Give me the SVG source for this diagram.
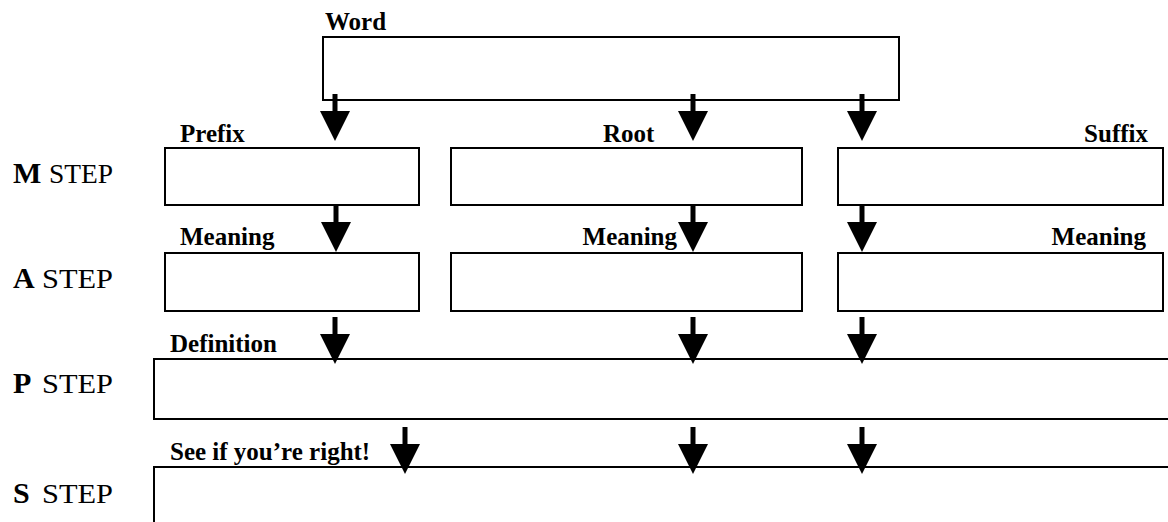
<svg xmlns="http://www.w3.org/2000/svg" width="1168" height="522" viewBox="0 0 1168 522">
  <style>
    .box { fill: none; stroke: #000; stroke-width: 2; }
    .lbl { font-family: "Liberation Serif", "Times New Roman", serif; font-weight: bold; font-size: 25px; fill: #000; }
    .stepL { font-family: "Liberation Serif", "Times New Roman", serif; font-weight: bold; font-size: 30px; fill: #000; }
    .stepW { font-family: "Liberation Serif", "Times New Roman", serif; font-size: 28px; fill: #000; }
    .shaft { stroke: #000; stroke-width: 5; }
    .head { fill: #000; }
  </style>
  <defs>
    <!-- thick down arrow, origin at top of shaft -->
    <g id="down">
      <line class="shaft" x1="0" y1="0" x2="0" y2="19"/>
      <polygon class="head" points="-15,17 15,17 0,47"/>
    </g>
  </defs>

  <rect width="1168" height="522" fill="#fff"/>

  <!-- step captions -->
  <g id="step-labels">
    <text class="stepL" x="13" y="183">M</text><text class="stepW" x="49" y="183" textLength="64" lengthAdjust="spacingAndGlyphs">STEP</text>
    <text class="stepL" x="13" y="288">A</text><text class="stepW" x="42" y="288" textLength="71" lengthAdjust="spacingAndGlyphs">STEP</text>
    <text class="stepL" x="13" y="393">P</text><text class="stepW" x="42" y="393" textLength="71" lengthAdjust="spacingAndGlyphs">STEP</text>
    <text class="stepL" x="13" y="503">S</text><text class="stepW" x="42" y="503" textLength="71" lengthAdjust="spacingAndGlyphs">STEP</text>
  </g>

  <g id="word">
    <rect class="box" x="323" y="37" width="576" height="63"/>
    <text class="lbl" x="325" y="30">Word</text>
  </g>

  <g id="prefix">
    <rect class="box" x="165" y="148" width="254" height="57"/>
    <text class="lbl" x="180" y="142">Prefix</text>
  </g>
  <g id="root">
    <rect class="box" x="451" y="148" width="351" height="57"/>
    <text class="lbl" x="603" y="142">Root</text>
  </g>
  <g id="suffix">
    <rect class="box" x="838" y="148" width="325" height="57"/>
    <text class="lbl" x="1148" y="142" text-anchor="end">Suffix</text>
  </g>

  <g id="prefix-meaning">
    <rect class="box" x="165" y="253" width="254" height="58"/>
    <text class="lbl" x="180" y="245">Meaning</text>
  </g>
  <g id="root-meaning">
    <rect class="box" x="451" y="253" width="351" height="58"/>
    <text class="lbl" x="677" y="245" text-anchor="end">Meaning</text>
  </g>
  <g id="suffix-meaning">
    <rect class="box" x="838" y="253" width="325" height="58"/>
    <text class="lbl" x="1146" y="245" text-anchor="end">Meaning</text>
  </g>

  <g id="definition">
    <path class="box" d="M1168,359 H154 V419 H1168"/>
    <text class="lbl" x="170" y="352">Definition</text>
  </g>

  <g id="check">
    <path class="box" d="M1168,467 H154 V522"/>
    <text class="lbl" x="170" y="460">See if you’re right!</text>
  </g>

  <g id="connectors">
    <use href="#down" x="335" y="94"/>
    <use href="#down" x="693" y="94"/>
    <use href="#down" x="862" y="94"/>

    <use href="#down" x="336" y="205"/>
    <use href="#down" x="693" y="205"/>
    <use href="#down" x="862" y="205"/>

    <use href="#down" x="335" y="317"/>
    <use href="#down" x="693" y="317"/>
    <use href="#down" x="862" y="317"/>

    <use href="#down" x="405" y="427"/>
    <use href="#down" x="693" y="427"/>
    <use href="#down" x="862" y="427"/>
  </g>
</svg>
